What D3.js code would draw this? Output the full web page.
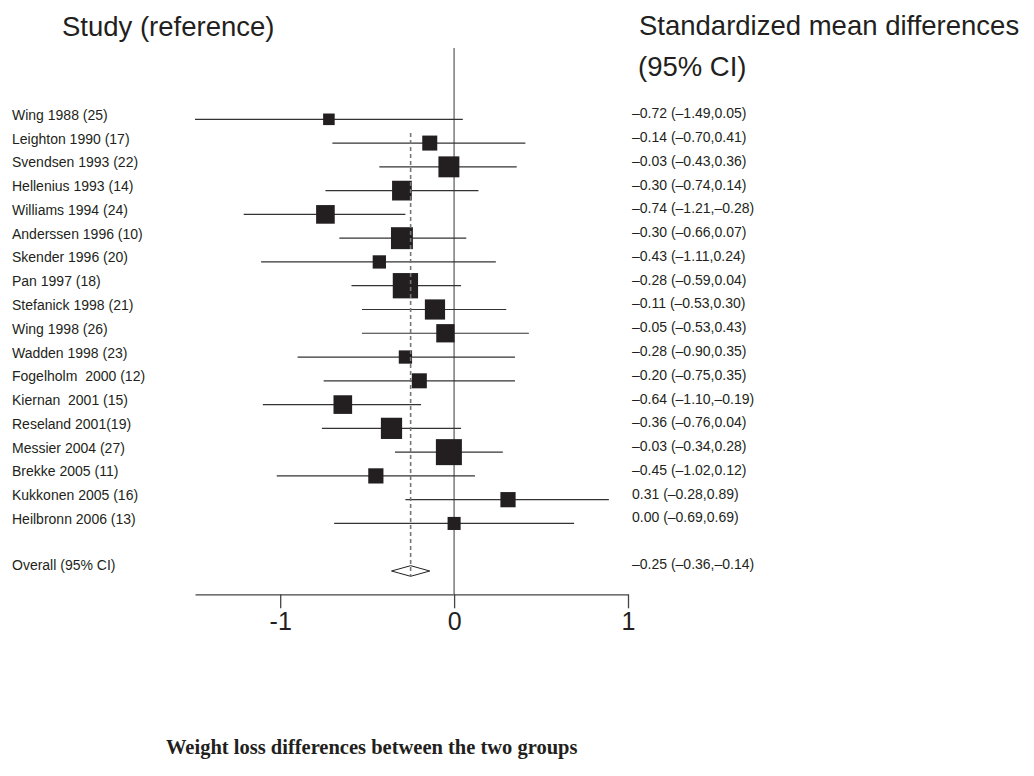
<!DOCTYPE html>
<html>
<head>
<meta charset="utf-8">
<script src="https://cdn.jsdelivr.net/npm/d3@7"></script>
<style>
  html, body { margin: 0; padding: 0; background: #fff; }
  svg { display: block; }
  text { font-family: "Liberation Sans", Arial, Helvetica, sans-serif; fill: #231f20; white-space: pre; }
</style>
</head>
<body>
<svg id="chart" width="1034" height="776"></svg>
<script>
// ---- data ----
const studies = [
  "Wing 1988 (25)", "Leighton 1990 (17)", "Svendsen 1993 (22)", "Hellenius 1993 (14)",
  "Williams 1994 (24)", "Anderssen 1996 (10)", "Skender 1996 (20)", "Pan 1997 (18)",
  "Stefanick 1998 (21)", "Wing 1998 (26)", "Wadden 1998 (23)", "Fogelholm  2000 (12)",
  "Kiernan  2001 (15)", "Reseland 2001(19)", "Messier 2004 (27)", "Brekke 2005 (11)",
  "Kukkonen 2005 (16)", "Heilbronn 2006 (13)"
];
const estimates = [-0.72, -0.14, -0.03, -0.30, -0.74, -0.30, -0.43, -0.28, -0.11, -0.05,
                   -0.28, -0.20, -0.64, -0.36, -0.03, -0.45, 0.31, 0.00];
const lowers    = [-1.49, -0.70, -0.43, -0.74, -1.21, -0.66, -1.11, -0.59, -0.53, -0.53,
                   -0.90, -0.75, -1.10, -0.76, -0.34, -1.02, -0.28, -0.69];
const uppers    = [0.05, 0.41, 0.36, 0.14, -0.28, 0.07, 0.24, 0.04, 0.30, 0.43,
                   0.35, 0.35, -0.19, 0.04, 0.28, 0.12, 0.89, 0.69];
const weights   = [2.2, 3.7, 7.2, 6.4, 5.7, 7.9, 2.9, 10.5, 6.7, 5.5,
                   2.9, 3.7, 5.7, 7.4, 11.1, 3.8, 3.8, 2.8];
const overallLabel = "Overall (95% CI)";
const overall = { est: -0.25, lo: -0.36, hi: -0.14 };
const xTicks = [-1, 0, 1];
const headerLeft = "Study (reference)";
const headerRight = ["Standardized mean differences", "(95% CI)"];
const title = "Weight loss differences between the two groups";

// ---- layout ----
const svg = d3.select("#chart");
const x = d3.scaleLinear().domain([-1.49, 1]).range([195, 628]);
const nRows = studies.length + 2; // blank row + overall
const y = d3.scaleLinear().domain([0, nRows - 1]).range([119.3, 571]);
const size = d3.scaleSqrt().domain([0, d3.max(weights)]).range([0, 26]);
const fmt = v => d3.format(".2f")(v).replace(/[-\u2212]/g, "\u2013");
const ciText = (e, l, h) => `${fmt(e)} (${fmt(l)},${fmt(h)})`;
const ink = "#231f20";
const axisY = 594.3;

const rows = studies.map((s, i) => ({ s, i, e: estimates[i], l: lowers[i], h: uppers[i], w: weights[i] }));

// headers
svg.append("text").attr("x", 62).attr("y", 36).style("font-size", "27.5px").text(headerLeft);
svg.append("text").attr("x", 639).attr("y", 35).style("font-size", "27.5px").text(headerRight[0]);
svg.append("text").attr("x", 638).attr("y", 76).style("font-size", "27.5px").text(headerRight[1]);

// zero line
svg.append("line")
  .attr("x1", x(0)).attr("x2", x(0)).attr("y1", 48).attr("y2", axisY)
  .attr("stroke", "#7a7a7a").attr("stroke-width", 1.5);

// CI lines
svg.append("g").selectAll("line").data(rows).join("line")
  .attr("x1", d => x(d.l)).attr("x2", d => x(d.h))
  .attr("y1", d => y(d.i)).attr("y2", d => y(d.i))
  .attr("stroke", "#333").attr("stroke-width", 1.2);

// squares
svg.append("g").selectAll("rect").data(rows).join("rect")
  .attr("x", d => x(d.e) - size(d.w) / 2)
  .attr("y", d => y(d.i) - size(d.w) / 2)
  .attr("width", d => size(d.w)).attr("height", d => size(d.w))
  .attr("fill", ink);

// overall diamond
const oy = y(nRows - 1);
svg.append("path")
  .attr("d", `M${x(overall.lo)},${oy} L${x(overall.est)},${oy - 5.3} L${x(overall.hi)},${oy} L${x(overall.est)},${oy + 5.3} Z`)
  .attr("fill", "#fff").attr("stroke", ink).attr("stroke-width", 1);

// dashed overall line
svg.append("line")
  .attr("x1", x(overall.est)).attr("x2", x(overall.est)).attr("y1", 133).attr("y2", oy + 5)
  .attr("stroke", "#777").attr("stroke-width", 1.6).attr("stroke-dasharray", "4,3");

// left labels
svg.append("g").selectAll("text").data(rows).join("text")
  .attr("x", 12).attr("y", d => y(d.i) + 0.5)
  .style("font-size", "14px").text(d => d.s);
svg.append("text").attr("x", 12).attr("y", oy - 1).style("font-size", "14px").text(overallLabel);

// right labels
svg.append("g").selectAll("text").data(rows).join("text")
  .attr("x", 632).attr("y", d => y(d.i) - 1)
  .style("font-size", "14px").text(d => ciText(d.e, d.l, d.h));
svg.append("text").attr("x", 632).attr("y", oy - 2).style("font-size", "14px")
  .text(ciText(overall.est, overall.lo, overall.hi));

// axis
const axis = d3.axisBottom(x).tickValues(xTicks).tickSize(14).tickSizeOuter(0).tickPadding(4)
  .tickFormat(d => String(d));
const ag = svg.append("g").attr("transform", `translate(0,${axisY})`).call(axis);
ag.select(".domain").attr("stroke", "#444").attr("stroke-width", 1.3);
ag.selectAll(".tick line").attr("stroke", "#444").attr("stroke-width", 1.3);
ag.selectAll(".tick text")
  .style("font-family", '"Liberation Sans", Arial, sans-serif')
  .style("font-size", "25px").attr("fill", ink);

// title
svg.append("text").attr("x", 166).attr("y", 754)
  .style("font-family", '"Liberation Serif", "Times New Roman", serif')
  .style("font-weight", "bold").style("font-size", "20.5px").text(title);
</script>
</body>
</html>
